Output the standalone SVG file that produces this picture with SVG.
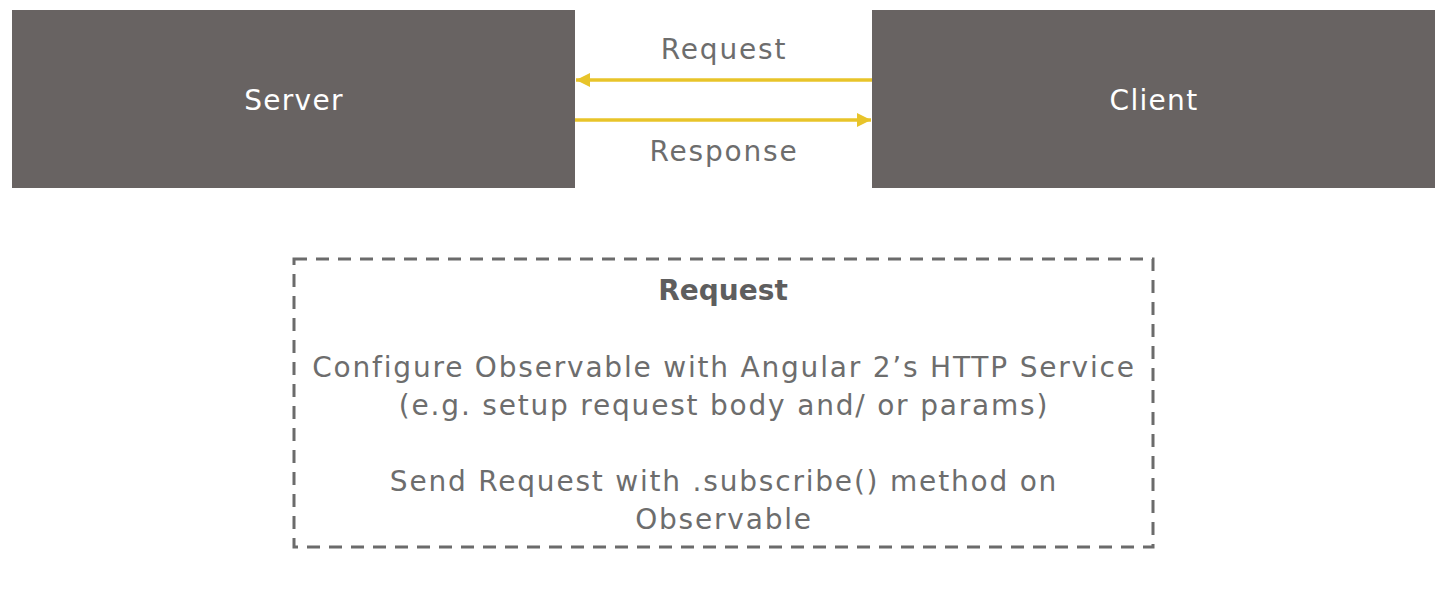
<svg xmlns="http://www.w3.org/2000/svg" width="1450" height="592" viewBox="0 0 1450 592">
<style>
.box{fill:#686362}
.lbl{font-family:"DejaVu Sans",sans-serif;font-size:28px;fill:#ffffff;text-anchor:middle;letter-spacing:1.3px}
.t{font-family:"DejaVu Sans",sans-serif;font-size:28px;fill:#6d6d6d;text-anchor:middle;letter-spacing:1.8px}
.b{font-weight:bold;fill:#5e5e5e;letter-spacing:0}
.arr{stroke:#e8c42a;stroke-width:3.5;fill:none}
.dash{fill:none;stroke:#6b6b6b;stroke-width:3;stroke-dasharray:13 9}
</style>
<defs>
<marker id="ah" viewBox="0 0 10 10" refX="10" refY="5" markerWidth="4" markerHeight="4" orient="auto-start-reverse" markerUnits="strokeWidth">
<path d="M0,0 L10,5 L0,10 z" fill="#e8c42a"/>
</marker>
</defs>
<rect width="1450" height="592" fill="#ffffff"/>
<g id="server">
<rect class="box" x="12" y="10" width="563" height="178"/>
<text class="lbl" x="294" y="110">Server</text>
</g>
<g id="client">
<rect class="box" x="872" y="10" width="563" height="178"/>
<text class="lbl" x="1154" y="110">Client</text>
</g>
<g id="connectors">
<line class="arr" x1="872" y1="80" x2="576" y2="80" marker-end="url(#ah)"/>
<line class="arr" x1="575" y1="120" x2="871" y2="120" marker-end="url(#ah)"/>
<text class="t" x="724" y="59">Request</text>
<text class="t" x="724" y="161">Response</text>
</g>
<g id="request-box">
<rect class="dash" x="294" y="259" width="859" height="288"/>
<text class="t b" x="723" y="300">Request</text>
<text class="t" x="724" y="377">Configure Observable with Angular 2’s HTTP Service</text>
<text class="t" x="724" y="415">(e.g. setup request body and/ or params)</text>
<text class="t" x="724" y="491">Send Request with .subscribe() method on</text>
<text class="t" x="724" y="529">Observable</text>
</g>
</svg>
